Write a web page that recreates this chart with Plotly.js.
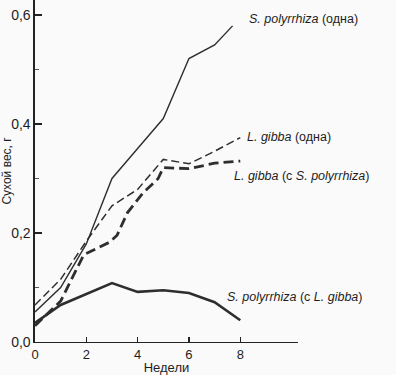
<!DOCTYPE html>
<html>
<head>
<meta charset="utf-8">
<script src="https://cdn.plot.ly/plotly-3.0.1.min.js"></script>
<style>html,body{margin:0;padding:0;background:#fafafa;}#chart{width:396px;height:375px;}</style>
</head>
<body>
<div id="chart"></div>
<script>
// Data
const spAloneWeeks = [0, 1, 2, 3, 4, 5, 6, 7, 7.7];
const spAloneValues = [0.055, 0.10, 0.18, 0.30, 0.355, 0.41, 0.52, 0.545, 0.58];

const lgAloneWeeks = [0, 1, 2, 3, 4, 5, 6, 7, 8];
const lgAloneValues = [0.068, 0.115, 0.185, 0.25, 0.28, 0.335, 0.327, 0.35, 0.375];

const lgMixedWeeks = [0, 1, 1.9, 2.4, 2.9, 3.2, 3.6, 4.2, 4.8, 5, 6, 7, 8];
const lgMixedValues = [0.03, 0.075, 0.16, 0.172, 0.183, 0.196, 0.237, 0.273, 0.3, 0.32, 0.318, 0.328, 0.332];

const spMixedWeeks = [0, 1, 3, 4, 5, 6, 7, 8];
const spMixedValues = [0.035, 0.068, 0.108, 0.092, 0.095, 0.09, 0.073, 0.04];

const yTickVals = [0, 0.2, 0.4, 0.6];
const yTickText = ['0,0', '0,2', '0,4', '0,6'];
const xTickVals = [0, 2, 4, 6, 8];
const xTickText = ['0', '2', '4', '6', '8'];

const labels = [
  {text: '<i>S. polyrrhiza</i> (одна)', px: 247, py: 19},
  {text: '<i>L. gibba</i> (одна)', px: 245, py: 137},
  {text: '<i>L. gibba</i> (с <i>S. polyrrhiza</i>)', px: 232, py: 176},
  {text: '<i>S. polyrrhiza</i> (с <i>L. gibba</i>)', px: 225, py: 297}
];

const lineColor = '#2e2e2e';
const traces = [
  {x: spAloneWeeks, y: spAloneValues, mode: 'lines', line: {color: lineColor, width: 1.4}},
  {x: lgAloneWeeks, y: lgAloneValues, mode: 'lines', line: {color: lineColor, width: 1.5, dash: '8px,4px'}},
  {x: lgMixedWeeks, y: lgMixedValues, mode: 'lines', line: {color: lineColor, width: 2.8, dash: '10px,5px'}},
  {x: spMixedWeeks, y: spMixedValues, mode: 'lines', line: {color: lineColor, width: 2.6}}
];

const L = 35, R = 298, T = 0, B = 342;
const annotations = labels.map(l => ({
  text: l.text, xref: 'paper', yref: 'paper',
  x: (l.px - L) / (R - L), y: (B - l.py) / (B - T),
  xanchor: 'left', yanchor: 'middle', showarrow: false,
  font: {family: 'Liberation Sans, Arial, sans-serif', size: 12.5, color: '#1e1e1e'}
}));

const layout = {
  width: 396, height: 375,
  margin: {l: L, r: 396 - R, t: T, b: 375 - B, pad: 0},
  paper_bgcolor: '#fafafa', plot_bgcolor: '#fafafa',
  showlegend: false,
  font: {family: 'Liberation Sans, Arial, sans-serif', color: '#1e1e1e'},
  xaxis: {
    range: [0, 10.25], showgrid: false, zeroline: false,
    showline: true, linecolor: '#222', linewidth: 1.3,
    tickmode: 'array', tickvals: xTickVals, ticktext: xTickText,
    ticks: 'inside', ticklen: 5, tickwidth: 1.2, tickcolor: '#222',
    tickfont: {size: 13, color: '#1e1e1e'},
    title: {text: 'Недели', font: {size: 13, color: '#1e1e1e'}, standoff: 2}
  },
  yaxis: {
    range: [0, 0.6275], showgrid: false, zeroline: false,
    showline: true, linecolor: '#222', linewidth: 1.6,
    tickmode: 'array', tickvals: yTickVals, ticktext: yTickText,
    ticks: 'inside', ticklen: 7, tickwidth: 1.2, tickcolor: '#222',
    minor: {tickvals: [0.1, 0.3, 0.5], ticks: 'inside', ticklen: 4, tickwidth: 1, tickcolor: '#555'},
    tickfont: {size: 14, color: '#1e1e1e'},
    title: {text: 'Сухой вес, г', font: {size: 12, color: '#1e1e1e'}, standoff: 0}
  },
  annotations: annotations
};

Plotly.newPlot('chart', traces, layout, {displayModeBar: false, staticPlot: true});
</script>
</body>
</html>
